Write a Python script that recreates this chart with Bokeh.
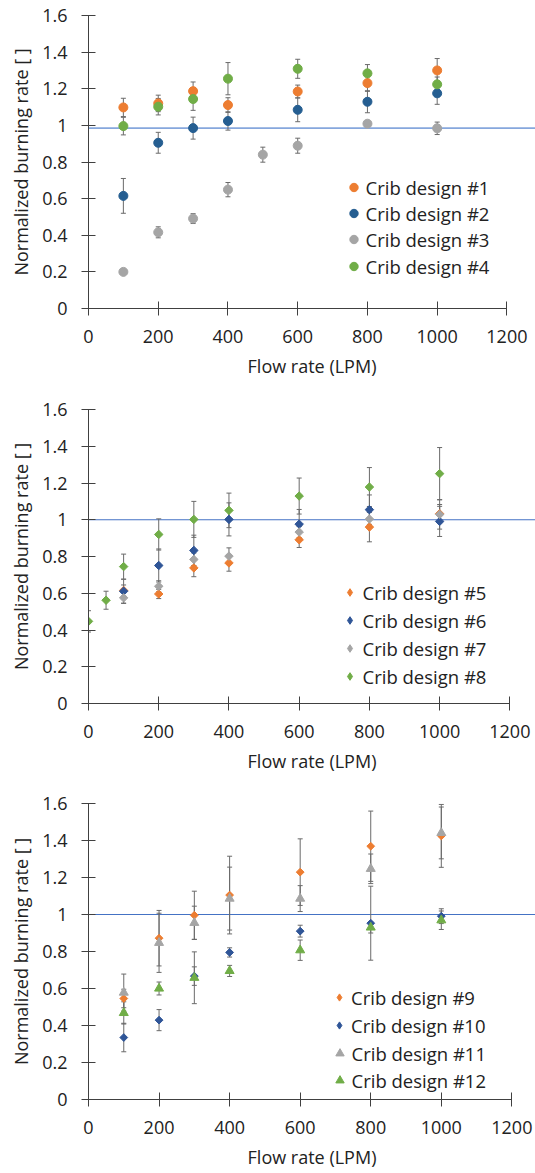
import numpy as np
from bokeh.plotting import figure
from bokeh.models import (ColumnDataSource, Whisker, TeeHead, Span, Range1d,
                          Legend, LegendItem, FixedTicker)
from bokeh.layouts import column
from bokeh.embed import file_html
from bokeh.resources import INLINE

# ---------------- data ----------------
x_ticks = [0, 200, 400, 600, 800, 1000, 1200]
x_tick_labels = ["0", "200", "400", "600", "800", "1000", "1200"]
y_ticks = [0, 0.2, 0.4, 0.6, 0.8, 1.0, 1.2, 1.4, 1.6]
y_tick_labels = ["0", "0.2", "0.4", "0.6", "0.8", "1", "1.2", "1.4", "1.6"]
x_title = "Flow rate (LPM)"
y_title = "Normalized burning rate [ ]"

# Panel 1 (circles)
flow_1 = [100, 200, 300, 400, 600, 800, 1000]
flow_1_c3 = [100, 200, 300, 400, 500, 600, 800, 1000]
crib1 = [1.098, 1.120, 1.187, 1.111, 1.185, 1.231, 1.300]
crib1_err = [0.050, 0.045, 0.050, 0.040, 0.035, 0.045, 0.065]
crib2 = [0.615, 0.905, 0.985, 1.024, 1.085, 1.129, 1.175]
crib2_err = [0.095, 0.057, 0.060, 0.050, 0.065, 0.060, 0.060]
crib3 = [0.200, 0.416, 0.491, 0.649, 0.840, 0.889, 1.009, 0.984]
crib3_err = [0.005, 0.030, 0.027, 0.039, 0.041, 0.041, 0.010, 0.034]
crib4 = [0.996, 1.102, 1.144, 1.255, 1.309, 1.284, 1.224]
crib4_err = [0.048, 0.045, 0.062, 0.088, 0.052, 0.048, 0.040]
ref_line_1 = 0.985

# Panel 2 (diamonds)
flow_2 = [100, 200, 300, 400, 600, 800, 1000]
flow_2_c8 = [0, 50, 100, 200, 300, 400, 600, 800, 1000]
crib5 = [0.615, 0.596, 0.738, 0.765, 0.891, 0.960, 1.033]
crib5_err = [0.030, 0.025, 0.048, 0.045, 0.042, 0.080, 0.050]
crib6 = [0.611, 0.751, 0.833, 1.002, 0.976, 1.055, 0.991]
crib6_err = [0.065, 0.090, 0.083, 0.090, 0.080, 0.080, 0.082]
crib7 = [0.575, 0.638, 0.784, 0.802, 0.933, 1.004, 1.029]
crib7_err = [0.030, 0.030, 0.035, 0.045, 0.030, 0.040, 0.080]
crib8 = [0.447, 0.562, 0.745, 0.920, 1.002, 1.051, 1.129, 1.178, 1.251]
crib8_err = [0.058, 0.049, 0.068, 0.085, 0.098, 0.094, 0.098, 0.106, 0.142]
ref_line_2 = 1.0

# Panel 3 (diamonds + triangles)
flow_3 = [100, 200, 300, 400, 600, 800, 1000]
crib9 = [0.546, 0.872, 0.996, 1.105, 1.229, 1.369, 1.425]
crib9_err = [0.050, 0.150, 0.130, 0.210, 0.180, 0.190, 0.170]
crib10 = [0.335, 0.429, 0.667, 0.795, 0.910, 0.953, 0.991]
crib10_err = [0.077, 0.057, 0.050, 0.025, 0.032, 0.200, 0.040]
crib11 = [0.578, 0.847, 0.955, 1.086, 1.086, 1.247, 1.441]
crib11_err = [0.100, 0.160, 0.090, 0.170, 0.070, 0.080, 0.140]
crib12 = [0.468, 0.600, 0.658, 0.695, 0.807, 0.930, 0.969]
crib12_err = [0.060, 0.035, 0.140, 0.030, 0.055, 0.030, 0.050]
ref_line_3 = 1.0

# ---------------- styles ----------------
FONT = "Open Sans"
TXT = "#222222"
AXC = "#404040"
ORANGE = "#ED7D31"
BLUE1 = "#255E91"
BLUE2 = "#2F5597"
GRAY = "#A5A5A5"
GREEN = "#70AD47"
ERRC = "#6a6a6a"

CIRCLE = dict(marker="circle", size=9, angle=0.0, leg_marker=None, leg_w=21)
DIAM = dict(marker="square", size=6, angle=np.pi / 4, leg_marker="diamond", leg_w=19)
DIAM3 = dict(marker="square", size=5.5, angle=np.pi / 4, leg_marker="diamond", leg_w=18)
TRI = dict(marker="triangle", size=9, angle=0.0, leg_marker=None, leg_w=21)


def make_panel(series, ref_value, g):
    p = figure(width=535, height=g["height"],
               x_range=Range1d(0, g["x_end"]), y_range=Range1d(0, 1.6),
               output_backend="svg", toolbar_location=None,
               min_border_left=g["left"], min_border_right=0,
               min_border_top=g["top"], min_border_bottom=g["bottom"])
    p.outline_line_color = None
    p.grid.visible = False
    p.background_fill_color = "white"
    p.border_fill_color = "white"

    p.xaxis.ticker = FixedTicker(ticks=x_ticks, minor_ticks=[])
    p.yaxis.ticker = FixedTicker(ticks=y_ticks, minor_ticks=[])
    p.xaxis.major_label_overrides = dict(zip(x_ticks, x_tick_labels))
    p.yaxis.major_label_overrides = dict(zip(y_ticks, y_tick_labels))
    p.xaxis.bounds = (0, 1200)
    p.xaxis.axis_label = x_title
    p.yaxis.axis_label = y_title
    for ax in (p.xaxis, p.yaxis):
        ax.axis_line_color = AXC
        ax.major_tick_line_color = AXC
        ax.major_tick_in = 7
        ax.major_tick_out = 7
        ax.minor_tick_line_color = None
        ax.major_label_text_font = FONT
        ax.major_label_text_font_size = "18px"
        ax.major_label_text_color = TXT
        ax.axis_label_text_font = FONT
        ax.axis_label_text_font_size = "18px"
        ax.axis_label_text_font_style = "normal"
        ax.axis_label_text_color = TXT
    p.xaxis.major_label_standoff = g["xls"]
    p.xaxis.axis_label_standoff = g["xts"]
    p.yaxis.major_label_standoff = 14
    p.yaxis.axis_label_standoff = 6

    span = Span(location=ref_value, dimension="width", line_color=g["ref_color"],
                line_width=g["ref_width"], level="underlay")
    p.add_layout(span)

    for i, (name, xs, ys, errs, color, mk) in enumerate(series):
        xs = np.asarray(xs, float)
        ys = np.asarray(ys, float)
        errs = np.asarray(errs, float)
        src = ColumnDataSource(dict(x=xs, y=ys, lo=ys - errs, hi=ys + errs))
        w = Whisker(base="x", lower="lo", upper="hi", source=src, dimension="height",
                    line_color=ERRC, line_width=1,
                    upper_head=TeeHead(size=5, line_color=ERRC, line_width=1),
                    lower_head=TeeHead(size=5, line_color=ERRC, line_width=1))
        p.add_layout(w)
        r = p.scatter("x", "y", source=src, marker=mk["marker"], size=mk["size"],
                      angle=mk["angle"], fill_color=color, line_color=color)
        leg_r = r
        if mk["leg_marker"] is not None:
            # hidden twin of the series, used only for an upright diamond swatch
            leg_r = p.scatter("x", "y", source=src, marker=mk["leg_marker"],
                              size=mk["size"], fill_color=color, line_color=color,
                              visible=False)
        W = int(mk["leg_w"])
        cx = g["leg_cx"]
        row = g["leg_rows"][i]
        lx = cx - W / 2 - g["frame_left_page"]
        ly = g["frame_bottom_page"] - row - 13
        stand = int(round(g["leg_text"] - (cx + W / 2) - 1))
        leg = Legend(items=[LegendItem(label=name, renderers=[leg_r])],
                     location=(lx, ly), glyph_width=W, glyph_height=26,
                     label_height=26, label_width=10,
                     label_standoff=max(stand, 0),
                     padding=0, margin=0, spacing=0,
                     background_fill_alpha=0, border_line_alpha=0,
                     inactive_fill_alpha=0,
                     label_text_font=FONT, label_text_font_size="18.5px",
                     label_text_color=TXT)
        p.add_layout(leg)
    return p


series1 = [
    ("Crib design #1", flow_1, crib1, crib1_err, ORANGE, CIRCLE),
    ("Crib design #2", flow_1, crib2, crib2_err, BLUE1, CIRCLE),
    ("Crib design #3", flow_1_c3, crib3, crib3_err, GRAY, CIRCLE),
    ("Crib design #4", flow_1, crib4, crib4_err, GREEN, CIRCLE),
]
series2 = [
    ("Crib design #5", flow_2, crib5, crib5_err, ORANGE, DIAM),
    ("Crib design #6", flow_2, crib6, crib6_err, BLUE2, DIAM),
    ("Crib design #7", flow_2, crib7, crib7_err, GRAY, DIAM),
    ("Crib design #8", flow_2_c8, crib8, crib8_err, GREEN, DIAM),
]
series3 = [
    ("Crib design #9", flow_3, crib9, crib9_err, ORANGE, DIAM3),
    ("Crib design #10", flow_3, crib10, crib10_err, BLUE2, DIAM3),
    ("Crib design #11", flow_3, crib11, crib11_err, GRAY, TRI),
    ("Crib design #12", flow_3, crib12, crib12_err, GREEN, TRI),
]

# page geometry (page y from top): fig1 0-388, fig2 388-783, fig3 783-1173
g1 = dict(height=388, top=15, bottom=80, left=87, x_end=1282, xls=14, xts=8,
          frame_left_page=87, frame_bottom_page=308,
          leg_cx=352, leg_text=365, leg_rows=[187, 213, 239, 266],
          ref_color="#86A7DD", ref_width=1.6)
g2 = dict(height=395, top=21, bottom=80, left=88, x_end=1273, xls=14, xts=8,
          frame_left_page=88, frame_bottom_page=703,
          leg_cx=349, leg_text=363, leg_rows=[592, 620, 648, 676],
          ref_color="#4472C4", ref_width=1)
g3 = dict(height=390, top=20, bottom=74, left=88, x_end=1267, xls=14, xts=8,
          frame_left_page=88, frame_bottom_page=1099,
          leg_cx=339, leg_text=352, leg_rows=[997, 1025, 1053, 1080],
          ref_color="#4472C4", ref_width=1)

p1 = make_panel(series1, ref_line_1, g1)
p2 = make_panel(series2, ref_line_2, g2)
p3 = make_panel(series3, ref_line_3, g3)

layout = column(p1, p2, p3, spacing=0)
open("out.html", "w").write(file_html(layout, INLINE))
